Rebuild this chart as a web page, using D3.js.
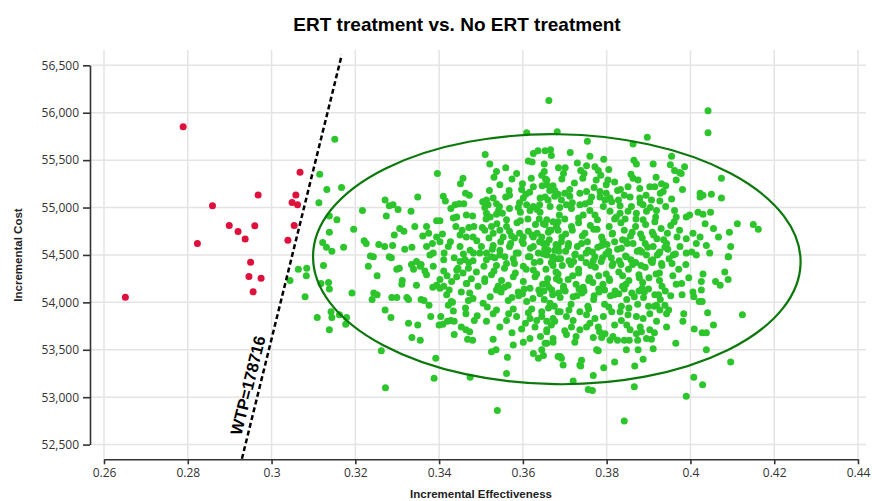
<!DOCTYPE html>
<html>
<head>
<meta charset="utf-8">
<script src="https://cdn.jsdelivr.net/npm/d3@7"></script>
<style>
body { margin: 0; background: #fff; }
</style>
</head>
<body>
<div id="chart"></div>
<script>
// chart values
var chartTitle = "ERT treatment vs. No ERT treatment";
var xTitle = "Incremental Effectiveness";
var yTitle = "Incremental Cost";
var xTicks = [0.26, 0.28, 0.30, 0.32, 0.34, 0.36, 0.38, 0.40, 0.42, 0.44];
var yTicks = [52500, 53000, 53500, 54000, 54500, 55000, 55500, 56000, 56500];
var wtp = 178716;
var wtpCostRange = [52350, 56610];
var wtpLabelCost = 53094;
var ellipseCenter = [0.3681, 54455];
var ellipseRadii = [0.0582, 1318];

// simulations above WTP (not cost-effective)
var redPoints = [
  [0.2651,54055],[0.2789,55852],[0.2823,54621],[0.2859,55018],[0.2899,54811],
  [0.2920,54748],[0.2937,54667],[0.2960,54807],[0.2968,55131],[0.2950,54424],
  [0.2946,54273],[0.2975,54255],[0.2956,54111],[0.3039,54656],[0.3049,55054],
  [0.3058,55131],[0.3062,55029],[0.3054,54811],[0.3068,55371]
];

// simulations below WTP (cost-effective)
var greenPoints = [
  [0.3044,54230],[0.3064,54350],[0.3084,54360],[0.3083,54280],[0.3080,54060],[0.3109,53840],
  [0.3113,55050],[0.3115,55350],[0.3151,55720],[0.3132,55190],[0.3167,55210],[0.3138,54910],
  [0.3156,54870],[0.3138,54740],[0.3122,54630],[0.3131,54580],[0.3144,54540],[0.3172,54580],
  [0.3196,54770],[0.3217,54970],[0.3124,54390],[0.3118,54200],[0.3136,54210],[0.3138,54140],
  [0.3142,53900],[0.3144,53840],[0.3162,53870],[0.3138,53710],[0.3177,53770],[0.3179,53840],
  [0.3192,54100],[0.3231,54380],[0.3243,54480],[0.3244,54100],[0.3252,54080],[0.3240,54030],
  [0.3271,53920],[0.3285,53840],[0.3262,53490],[0.3272,53100],[0.3287,54050],[0.3299,54050],
  [0.3311,54190],[0.3299,54350],[0.3305,54360],[0.3286,54470],[0.3323,54050],[0.3327,54030],
  [0.3327,53780],[0.3349,53760],[0.3335,53630],[0.3355,53600],[0.3357,54030],[0.3334,54400],
  [0.3346,54430],[0.3357,54400],[0.3339,54350],[0.3355,54380],[0.3366,54330],[0.3370,54290],
  [0.3386,54380],[0.3385,54160],[0.3394,54180],[0.3402,54150],[0.3411,54170],[0.3402,54240],
  [0.3411,54330],[0.3411,54450],[0.3376,53970],[0.3380,53850],[0.3404,53850],[0.3400,53760],
  [0.3409,53770],[0.3420,53800],[0.3428,53810],[0.3436,53800],[0.3392,53410],[0.3388,53200],
  [0.3422,53970],[0.3429,54010],[0.3434,53910],[0.3436,53660],[0.3453,53740],[0.3464,53710],
  [0.3473,53690],[0.3468,53610],[0.3480,53600],[0.3484,53810],[0.3464,53880],[0.3474,53210],
  [0.3418,54080],[0.3424,54130],[0.3442,54270],[0.3457,54310],[0.3465,54200],[0.3453,54110],
  [0.3473,54100],[0.3481,54040],[0.3450,54430],[0.3462,54450],[0.3470,54360],
  [0.3662,56130],[0.3609,55790],[0.3682,55800],[0.3510,55560],[0.3625,55570],[0.3636,55600],
  [0.3653,55600],[0.3666,55610],[0.3668,55550],[0.3613,55490],[0.3622,55480],[0.3651,55460],
  [0.3685,55420],[0.3521,55460],[0.3559,55420],[0.3537,55380],[0.3531,55320],[0.3396,55360],
  [0.3574,55300],[0.3620,55310],[0.3651,55380],[0.3654,55300],[0.3646,55230],[0.3657,55240],
  [0.3457,55310],[0.3451,55250],[0.3545,55240],[0.3599,55250],[0.3597,55190],[0.3625,55220],
  [0.3672,55230],[0.3684,55140],[0.3520,55180],[0.3567,55180],[0.3463,55150],[0.3472,55130],
  [0.3410,55120],[0.3415,55070],[0.3349,55110],[0.3559,55110],[0.3601,55100],[0.3641,55100],
  [0.3660,55080],[0.3271,55080],[0.3504,55060],[0.3513,55080],[0.3529,55100],[0.3537,55040],
  [0.3517,55030],[0.3509,55000],[0.3438,55030],[0.3448,55040],[0.3459,55040],[0.3428,54990],
  [0.3281,55020],[0.3290,55030],[0.3302,54980],[0.3274,54910],[0.3333,54960],[0.3568,54990],
  [0.3589,55000],[0.3594,54950],[0.3609,55030],[0.3617,54970],[0.3625,55010],[0.3634,54980],
  [0.3641,54950],[0.3513,54940],[0.3522,54900],[0.3542,54970],[0.3537,54930],[0.3434,54890],
  [0.3442,54900],[0.3465,54920],[0.3480,54910],[0.3394,54860],[0.3402,54860],[0.3657,54870],
  [0.3653,54820],[0.3672,54850],[0.3680,54800],[0.3663,54760],[0.3684,54760],[0.3306,54780],
  [0.3316,54750],[0.3293,54710],[0.3342,54800],[0.3370,54800],[0.3375,54730],[0.3440,54800],
  [0.3471,54790],[0.3483,54800],[0.3481,54690],[0.3450,54710],[0.3465,54690],[0.3509,54760],
  [0.3525,54800],[0.3529,54730],[0.3545,54760],[0.3553,54690],[0.3561,54800],[0.3568,54750],
  [0.3580,54680],[0.3592,54730],[0.3601,54690],[0.3613,54750],[0.3625,54690],[0.3634,54730],
  [0.3645,54690],[0.3221,54650],[0.3226,54620],[0.3256,54610],[0.3270,54590],[0.3335,54580],
  [0.3394,54690],[0.3402,54640],[0.3370,54590],[0.3384,54620],[0.3386,54520],[0.3236,54490],
  [0.3281,54480],[0.3422,54590],[0.3427,54640],[0.3450,54590],[0.3474,54550],[0.3482,54520],
  [0.3501,54590],[0.3513,54520],[0.3529,54600],[0.3545,54550],[0.3557,54480],[0.3568,54590],
  [0.3584,54520],[0.3601,54620],[0.3613,54480],[0.3625,54590],[0.3637,54520],[0.3649,54620],
  [0.3660,54550],[0.3672,54480],[0.3684,54590],
  [0.4042,56020],[0.4042,55790],[0.3754,55700],[0.3897,55740],[0.3863,55670],[0.3713,55580],
  [0.3760,55540],[0.3793,55510],[0.3730,55470],[0.3738,55390],[0.3746,55360],[0.3752,55440],
  [0.3772,55430],[0.3780,55390],[0.3865,55500],[0.3871,55460],[0.3911,55460],[0.3952,55450],
  [0.3962,55390],[0.3974,55370],[0.3986,55430],[0.3955,55540],[0.3701,55420],[0.3697,55360],
  [0.4074,55310],[0.3966,55290],[0.3978,55360],[0.3803,55290],[0.3819,55270],[0.3799,55240],
  [0.3863,55310],[0.3875,55290],[0.3879,55200],[0.3903,55220],[0.3915,55220],[0.3931,55250],
  [0.3941,55230],[0.3935,55170],[0.3981,55190],[0.4023,55150],[0.4030,55130],[0.4050,55140],
  [0.4074,55100],[0.4023,55110],[0.3676,55120],[0.3700,55150],[0.3712,55190],[0.3704,55030],
  [0.3752,55170],[0.3764,55110],[0.3784,55110],[0.3796,55080],[0.3812,55060],[0.3828,55080],
  [0.3799,55150],[0.3879,55100],[0.3887,55030],[0.3907,55080],[0.3927,55070],[0.3955,55090],
  [0.3859,55010],[0.3851,54960],[0.3871,54940],[0.3895,54960],[0.3919,54970],[0.3941,55010],
  [0.3962,54970],[0.3966,54900],[0.3990,54900],[0.3998,54920],[0.4018,54950],[0.4030,54930],
  [0.4048,54950],[0.4035,54830],[0.4055,54780],[0.4067,54690],[0.4093,54740],[0.4112,54830],
  [0.4150,54820],[0.4162,54770],[0.4096,54590],[0.4091,54480],[0.3974,54760],[0.3990,54670],
  [0.4006,54730],[0.4014,54620],[0.4023,54690],[0.4038,54600],[0.4046,54520],[0.3990,54520],
  [0.4014,54500],
  [0.3649,54830],[0.3667,54760],[0.3684,54850],[0.3702,54720],[0.3716,54800],[0.3733,54840],
  [0.3748,54730],[0.3761,54810],[0.3777,54770],[0.3788,54690],[0.3806,54800],[0.3814,54730],
  [0.3834,54840],[0.3842,54760],[0.3857,54700],[0.3869,54800],[0.3881,54720],[0.3893,54820],
  [0.3909,54740],[0.3920,54670],[0.3930,54780],[0.3945,54730],[0.3953,54810],[0.3968,54690],
  [0.3657,54620],[0.3676,54550],[0.3692,54640],[0.3708,54590],[0.3724,54500],[0.3740,54620],
  [0.3756,54550],[0.3772,54480],[0.3788,54600],[0.3804,54530],[0.3819,54640],[0.3835,54570],
  [0.3847,54480],[0.3863,54620],[0.3879,54550],[0.3895,54500],[0.3911,54590],[0.3927,54530],
  [0.3943,54620],[0.3959,54500],[0.3975,54590],
  [0.3645,55340],[0.3657,55290],[0.3676,55180],[0.3653,55110],[0.3692,55080],[0.3665,55010],
  [0.3716,54990],[0.3736,55030],[0.3760,54970],[0.3772,54920],[0.3792,55010],[0.3808,54960],
  [0.3832,54940],[0.3844,54880],[0.3700,54880],[0.3744,54920],[0.3819,54880],[0.3887,54870],
  [0.3915,54850],[0.3723,55260],[0.3743,55310],[0.3775,55290],[0.3786,55340],[0.3826,55180],
  [0.3842,55130],[0.3851,55220],
  [0.3497,54520],[0.3513,54450],[0.3525,54480],[0.3537,54390],[0.3545,54500],[0.3561,54410],
  [0.3577,54460],[0.3589,54520],[0.3601,54380],[0.3617,54480],[0.3625,54340],[0.3641,54430],
  [0.3657,54500],[0.3672,54390],[0.3684,54460],[0.3430,54220],[0.3442,54340],[0.3466,54200],
  [0.3477,54250],[0.3493,54170],[0.3509,54220],[0.3525,54290],[0.3537,54130],[0.3549,54230],
  [0.3565,54180],[0.3577,54270],[0.3589,54110],[0.3601,54220],[0.3617,54150],[0.3629,54270],
  [0.3641,54090],[0.3657,54200],[0.3669,54130],[0.3680,54250],[0.3470,54020],[0.3505,53990],
  [0.3537,53920],[0.3545,53740],[0.3565,54020],[0.3577,53930],[0.3585,53850],[0.3597,53720],
  [0.3609,54010],[0.3621,53930],[0.3633,53810],[0.3645,53900],[0.3657,53710],[0.3665,53990],
  [0.3676,53800],[0.3684,53900],[0.3513,53800],[0.3529,53880],[0.3561,53810],[0.3617,53830],
  [0.3629,53740],[0.3529,53610],[0.3525,53480],[0.3536,53500],[0.3577,53550],[0.3601,53580],
  [0.3617,53620],[0.3625,53460],[0.3637,53410],[0.3645,53500],[0.3657,53570],[0.3672,53580],
  [0.3684,53430],[0.3561,53250],[0.3563,53420],[0.3539,52860],
  [0.4090,54480],[0.4082,54320],[0.4090,54240],[0.4060,54220],[0.4071,54180],[0.4030,54300],
  [0.4026,54220],[0.4026,54130],[0.4006,54110],[0.4008,54060],[0.4021,54010],[0.4028,54010],
  [0.4124,53870],[0.4041,53890],[0.4055,53760],[0.4009,53720],[0.4028,53680],[0.4038,53680],
  [0.3984,53880],[0.3982,53800],[0.3965,53570],[0.4038,53500],[0.4096,53370],[0.4008,53210],
  [0.4029,53130],[0.3990,53010],[0.3911,53510],[0.3887,53400],[0.3867,53330],[0.3819,53370],
  [0.3793,53310],[0.3768,53230],[0.3766,53070],[0.3720,53170],[0.3740,53390],[0.3738,53330],
  [0.3692,53410],[0.3696,53340],[0.3866,53110],[0.3842,52750],[0.3776,53500],[0.3780,53490],
  [0.3847,53500],[0.3875,53500],[0.3826,53600],[0.3842,53600],[0.3854,53600],[0.3874,53600],
  [0.3649,53440],[0.3689,53430],[0.3657,53690],[0.3672,53620],[0.3653,53570],[0.3724,53580],
  [0.3736,53710],[0.3704,53660],[0.3716,53740],[0.3760,53780],[0.3780,53740],[0.3796,53670],
  [0.3808,53600],[0.3788,53630],[0.3768,53630],[0.3819,53760],[0.3835,53810],[0.3856,53710],
  [0.3871,53670],[0.3883,53690],[0.3895,53620],[0.3903,53710],[0.3919,53800],[0.3943,53740],
  [0.3907,53610],[0.3736,53340],[0.3756,53080],
  [0.3943,53880],[0.3927,53920],[0.3919,53970],[0.3939,53970],[0.3903,53880],[0.3887,53830],
  [0.3871,53850],[0.3851,53870],[0.3832,53900],[0.3812,53900],[0.3792,53850],[0.3772,53830],
  [0.3752,53870],[0.3736,53900],[0.3720,53810],[0.3704,53850],[0.3689,53900],[0.3672,53830],
  [0.3657,53800],[0.3645,53850],
  [0.3649,54510],[0.3671,54470],[0.3686,54540],[0.3710,54440],[0.3725,54510],[0.3751,54420],
  [0.3766,54530],[0.3790,54470],[0.3805,54540],[0.3830,54440],[0.3845,54490],[0.3869,54420],
  [0.3884,54530],[0.3910,54450],[0.3925,54520],[0.3949,54460],[0.3964,54510],[0.3989,54400],
  [0.4003,54530],
  [0.3655,54350],[0.3679,54320],[0.3694,54390],[0.3719,54280],[0.3733,54350],[0.3759,54260],
  [0.3773,54370],[0.3799,54300],[0.3813,54390],[0.3838,54280],[0.3852,54350],[0.3878,54260],
  [0.3892,54370],[0.3918,54300],[0.3932,54390],[0.3958,54280],[0.3972,54350],[0.3996,54260],
  [0.3647,54190],[0.3662,54160],[0.3687,54230],[0.3701,54120],[0.3727,54190],[0.3741,54100],
  [0.3767,54210],[0.3781,54140],[0.3807,54230],[0.3820,54120],[0.3846,54190],[0.3860,54100],
  [0.3886,54210],[0.3900,54140],[0.3926,54230],[0.3940,54120],[0.3966,54190],[0.3980,54080],
  [0.3651,54030],[0.3675,53960],[0.3689,54050],[0.3715,53980],[0.3729,54070],[0.3755,53960],
  [0.3769,54030],[0.3795,53980],[0.3809,54070],[0.3835,53960],[0.3848,54030],[0.3874,53980],
  [0.3888,54050],[0.3914,53960],[0.3928,54030],[0.3953,54070],
  [0.3661,54740],[0.3693,54690],[0.3718,54760],[0.3742,54700],[0.3769,54770],[0.3791,54650],
  [0.3813,54720],[0.3838,54660],[0.3861,54740],[0.3885,54680],[0.3912,54710],[0.3936,54660],
  [0.3652,54560],[0.3679,54610],[0.3702,54540],[0.3730,54590],[0.3751,54520],[0.3779,54580],
  [0.3798,54510],[0.3826,54560],[0.3849,54620],[0.3873,54540],[0.3898,54580],[0.3921,54500],
  [0.3946,54560],[0.3668,54420],[0.3690,54460],[0.3715,54400],[0.3739,54470],[0.3762,54390],
  [0.3787,54430],[0.3811,54470],[0.3834,54400],[0.3858,54450],[0.3882,54390],[0.3906,54440],
  [0.3931,54410],[0.3659,54250],[0.3684,54300],[0.3708,54240],[0.3733,54310],[0.3757,54230],
  [0.3781,54280],[0.3806,54250],[0.3829,54320],[0.3853,54230],[0.3877,54290],[0.3901,54260],
  [0.3926,54310],[0.3671,54080],[0.3697,54140],[0.3720,54060],[0.3746,54120],[0.3770,54070],
  [0.3795,54130],[0.3818,54080],[0.3842,54140],[0.3866,54060],[0.3890,54110],[0.3915,54080],
  [0.3512,54880],[0.3538,54830],[0.3561,54870],[0.3586,54840],[0.3612,54880],[0.3630,54820],
  [0.3519,54680],[0.3547,54640],[0.3573,54700],[0.3598,54650],[0.3622,54710],[0.3640,54640],
  [0.3507,54380],[0.3531,54330],[0.3556,54360],[0.3582,54310],[0.3608,54350],[0.3633,54300],
  [0.3522,54060],[0.3548,54110],[0.3574,54050],[0.3599,54090],[0.3624,54040],
  [0.3412,54520],[0.3436,54470],[0.3458,54510],[0.3481,54440],[0.3445,54360],[0.3471,54420],
  [0.3419,54280],[0.3489,54320],[0.3432,54000],[0.3463,53940],[0.3491,53860],[0.3408,54720],
  [0.3455,54760],[0.3490,54650],[0.3252,54280],[0.3318,54560],[0.3346,54180],[0.3361,54700],
  [0.3289,54600],[0.3312,54230],[0.3364,54020],[0.3378,54500],
  [0.3585,55360],[0.3607,55140],[0.3693,55300],[0.3718,55050],[0.3770,55210],[0.3749,55040],
  [0.3805,55400],[0.3833,55190],[0.3858,55350],[0.3894,55130],[0.3918,55320],
  [0.3503,54790],[0.3527,54560],[0.3551,54940],[0.3571,54620],[0.3594,54860],[0.3618,54570],
  [0.3639,54880],[0.3663,54660],[0.3687,54920],[0.3709,54620],[0.3733,54890],[0.3754,54640],
  [0.3778,54870],[0.3801,54610],[0.3823,54900],[0.3846,54650],[0.3870,54880],[0.3892,54620],
  [0.3917,54900],[0.3939,54580],[0.3961,54850],
  [0.3509,54250],[0.3533,54470],[0.3556,54160],[0.3580,54410],[0.3603,54140],[0.3627,54420],
  [0.3650,54120],[0.3673,54450],[0.3697,54170],[0.3721,54430],[0.3744,54160],[0.3768,54440],
  [0.3791,54190],[0.3815,54410],[0.3838,54170],[0.3862,54400],[0.3885,54150],[0.3909,54420],
  [0.3932,54170],[0.3956,54410],[0.3979,54200],
  [0.3515,53950],[0.3541,54170],[0.3566,53880],[0.3590,54070],[0.3613,53890],[0.3638,54130],
  [0.3661,53940],[0.3685,54100],[0.3710,53920],[0.3734,54140],[0.3757,53930],[0.3782,54110],
  [0.3805,53950],[0.3829,54090],[0.3853,53940],[0.3877,54120],[0.3900,53960],[0.3924,54080],
  [0.3948,53920],
  [0.3544,55010],[0.3568,55130],[0.3592,55050],[0.3616,55160],[0.3640,55030],[0.3664,55180],
  [0.3688,55000],[0.3712,55120],[0.3736,55150],[0.3760,55060],[0.3784,55170],[0.3808,55100],
  [0.3832,55020],[0.3856,55110],[0.3880,55050],[0.3904,55000],[0.3928,55150],
  [0.3574,53680],[0.3606,53780],[0.3642,53640],[0.3668,53760],[0.3700,53700],[0.3727,53640],
  [0.3752,53740],[0.3783,53690],[0.3815,53640],[0.3848,53760],[0.3880,53740],[0.3914,53680]
];

var width = 872, height = 501;

var svg = d3.select("#chart")
  .append("svg")
  .attr("width", width)
  .attr("height", height)
  .style("font-family", "'Open Sans', sans-serif");

var x = d3.scaleLinear().domain([0.26, 0.44]).range([104, 858]);
var y = d3.scaleLinear().domain([52500, 56500]).range([444.6, 65.3]);

// grid
svg.append("g").selectAll("line")
  .data(xTicks)
  .enter()
  .append("line")
  .attr("x1", function(d) { return x(d); })
  .attr("x2", function(d) { return x(d); })
  .attr("y1", 50)
  .attr("y2", 459)
  .attr("stroke", "#e4e4e4")
  .attr("stroke-width", 1.5);

svg.append("g").selectAll("line")
  .data(yTicks)
  .enter()
  .append("line")
  .attr("x1", 90)
  .attr("x2", 866)
  .attr("y1", function(d) { return y(d); })
  .attr("y2", function(d) { return y(d); })
  .attr("stroke", "#e4e4e4")
  .attr("stroke-width", 1.5);

// axes
var yAxis = svg.append("g")
  .attr("transform", "translate(90,0)")
  .call(d3.axisLeft(y).tickValues(yTicks).tickFormat(d3.format(",")).tickSize(7).tickSizeOuter(0).tickPadding(4));

var xAxis = svg.append("g")
  .attr("transform", "translate(0,459.3)")
  .call(d3.axisBottom(x).tickValues(xTicks).tickFormat(function(d) { return String(+d.toFixed(2)); }).tickSize(5).tickSizeOuter(0).tickPadding(4));

[xAxis, yAxis].forEach(function(a) {
  a.select(".domain").attr("stroke", "#333").attr("stroke-width", 1.6);
  a.selectAll(".tick line").attr("stroke", "#333").attr("stroke-width", 1.6);
  a.selectAll(".tick text")
    .attr("fill", "#333")
    .style("font-family", "'Open Sans', sans-serif")
    .style("font-size", "12px");
});

// points
svg.append("g").selectAll("circle")
  .data(greenPoints)
  .enter()
  .append("circle")
  .attr("cx", function(d) { return x(d[0]); })
  .attr("cy", function(d) { return y(d[1]); })
  .attr("r", 3.5)
  .attr("fill", "#2cc52c");

svg.append("g").selectAll("circle")
  .data(redPoints)
  .enter()
  .append("circle")
  .attr("cx", function(d) { return x(d[0]); })
  .attr("cy", function(d) { return y(d[1]); })
  .attr("r", 3.5)
  .attr("fill", "#de103c");

// confidence ellipse
var ecx = x(ellipseCenter[0]), ecy = y(ellipseCenter[1]);
svg.append("ellipse")
  .attr("cx", ecx)
  .attr("cy", ecy)
  .attr("rx", x(ellipseCenter[0] + ellipseRadii[0]) - ecx)
  .attr("ry", y(ellipseCenter[1] - ellipseRadii[1]) - ecy)
  .attr("transform", "rotate(0.8," + ecx + "," + ecy + ")")
  .attr("fill", "none")
  .attr("stroke", "#0b780b")
  .attr("stroke-width", 2.2);

// WTP threshold line
var wtpLine = wtpCostRange.map(function(c) { return [c / wtp, c]; });
svg.append("path")
  .datum(wtpLine)
  .attr("d", d3.line().x(function(d) { return x(d[0]); }).y(function(d) { return y(d[1]); }))
  .attr("fill", "none")
  .attr("stroke", "#000")
  .attr("stroke-width", 2.5)
  .attr("stroke-dasharray", "5,3");

var angle = Math.atan2(y(wtpLine[1][1]) - y(wtpLine[0][1]), x(wtpLine[1][0]) - x(wtpLine[0][0])) * 180 / Math.PI;
var lx = x(wtpLabelCost / wtp), ly = y(wtpLabelCost);
svg.append("text")
  .attr("transform", "translate(" + lx + "," + ly + ") rotate(" + angle + ")")
  .attr("dy", -6)
  .attr("text-anchor", "middle")
  .style("font-family", "'Liberation Sans', Arial, sans-serif")
  .style("font-weight", "bold")
  .style("font-size", "16.5px")
  .text("WTP=" + wtp);

// titles
svg.append("text")
  .attr("x", 457)
  .attr("y", 31)
  .attr("text-anchor", "middle")
  .style("font-family", "'Liberation Sans', Arial, sans-serif")
  .style("font-weight", "bold")
  .style("font-size", "19px")
  .text(chartTitle);

svg.append("text")
  .attr("x", 481)
  .attr("y", 498)
  .attr("text-anchor", "middle")
  .style("font-family", "'Liberation Sans', Arial, sans-serif")
  .style("font-weight", "bold")
  .style("font-size", "11.5px")
  .attr("fill", "#222")
  .text(xTitle);

svg.append("text")
  .attr("transform", "translate(22,255) rotate(-90)")
  .attr("text-anchor", "middle")
  .style("font-family", "'Liberation Sans', Arial, sans-serif")
  .style("font-weight", "bold")
  .style("font-size", "11.5px")
  .attr("fill", "#222")
  .text(yTitle);
</script>
</body>
</html>
